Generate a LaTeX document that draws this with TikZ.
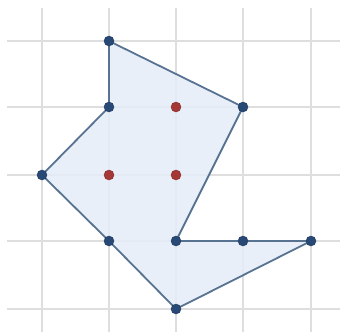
\documentclass[tikz,border=0pt]{standalone}
\definecolor{gridc}{RGB}{222,222,222}
\definecolor{fillc}{RGB}{228,237,248}
\definecolor{edgec}{RGB}{88,115,145}
\definecolor{vert}{RGB}{40,72,118}
\definecolor{inner}{RGB}{165,55,55}
\tikzset{
  gridline/.style={gridc, line width=1.3pt},
  vdot/.style={circle, fill=vert, draw=vert!80!black, line width=0.4pt, inner sep=0pt, minimum size=10pt},
  rdot/.style={circle, fill=inner, draw=inner!80!black, line width=0.4pt, inner sep=0pt, minimum size=10pt},
  edge/.style={edgec, line width=1.8pt, line join=round}
}
\begin{document}
\begin{tikzpicture}[x=1pt,y=-1pt]
\useasboundingbox (0,0) rectangle (340,332);
\fill[white] (0,0) rectangle (340,332);
% grid
\foreach \x in {42,109,176,243,311} \draw[gridline] (\x,8) -- (\x,332);
\foreach \y in {41,107,175,241,309} \draw[gridline] (7,\y) -- (340,\y);
% coordinates
\coordinate (A) at (109,41);
\coordinate (B) at (243,107);
\coordinate (C) at (176,241);
\coordinate (D) at (243,241);
\coordinate (E) at (311,241);
\coordinate (F) at (176,309);
\coordinate (G) at (109,241);
\coordinate (H) at (42,175);
\coordinate (I) at (109,107);
\fill[fillc, opacity=0.85] (A) -- (B) -- (C) -- (E) -- (F) -- (G) -- (H) -- (I) -- cycle;
\draw[edge] (A) -- (B) -- (C) -- (D) -- (E) -- (F) -- (G) -- (H) -- (I) -- cycle;
% vertices
\foreach \p in {A,B,C,D,E,F,G,H,I} \node[vdot] (v\p) at (\p) {};
\node[rdot] (r1) at (176,107) {};
\node[rdot] (r2) at (109,175) {};
\node[rdot] (r3) at (176,175) {};
\end{tikzpicture}
\end{document}
